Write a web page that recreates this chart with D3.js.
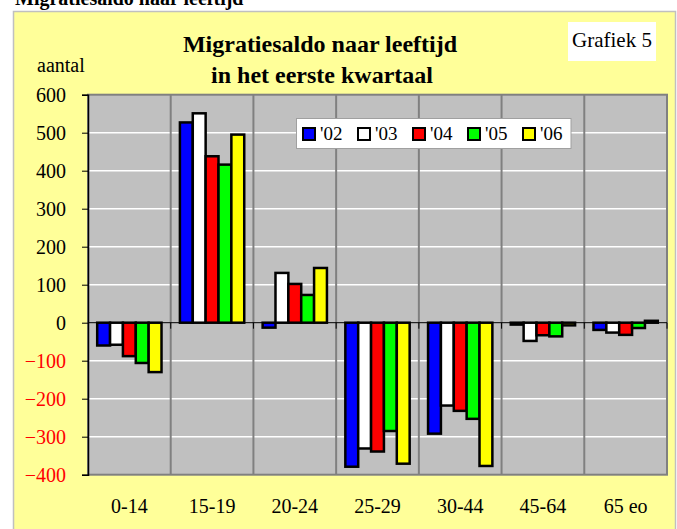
<!DOCTYPE html>
<html>
<head>
<meta charset="utf-8">
<script src="https://cdn.jsdelivr.net/npm/d3@7"></script>
<style>
  body { margin: 0; background: #fff; }
</style>
</head>
<body>
<svg id="chart" width="677" height="529"></svg>
<script>
// age groups on the x axis
const ageGroups = ["0-14", "15-19", "20-24", "25-29", "30-44", "45-64", "65 eo"];
// years (legend)
const years = ["'02", "'03", "'04", "'05", "'06"];
const yearColors = ["#0000ff", "#ffffff", "#ff0000", "#00ff00", "#ffff00"];
// migration balance per year, one value per age group
const y02 = [-60, 527, -13, -379, -292, -5, -19];
const y03 = [-58, 551, 131, -331, -218, -48, -26];
const y04 = [-88, 438, 102, -339, -232, -33, -32];
const y05 = [-106, 416, 73, -285, -253, -36, -14];
const y06 = [-130, 495, 144, -371, -377, -7, 5];
const yTicks = [600, 500, 400, 300, 200, 100, 0, -100, -200, -300, -400];

const FONT = "'Liberation Serif', 'DejaVu Serif', 'Times New Roman', Times, serif";

const series = [y02, y03, y04, y05, y06];
const rows = ageGroups.map((g, i) => ({
  group: g,
  vals: years.map((yr, j) => ({ year: yr, value: series[j][i], color: yearColors[j] }))
}));

const svg = d3.select("#chart").style("font-family", FONT);

// clipped heading above the chart frame
svg.append("text")
  .attr("x", 15).attr("y", 5)
  .attr("font-size", 20).attr("font-weight", "bold")
  .text("Migratiesaldo naar leeftijd");

// yellow chart area
svg.append("rect")
  .attr("x", 13.5).attr("y", 11.5)
  .attr("width", 662).attr("height", 530)
  .attr("fill", "#ffff99")
  .attr("stroke", "#c0c0c0").attr("stroke-width", 1.5);

const plot = { left: 88, right: 667, top: 94.7, bottom: 474.7 };

const x0 = d3.scaleBand().domain(ageGroups).range([plot.left, plot.right]);
const x1 = d3.scaleBand().domain(years).range([0, x0.bandwidth()]).paddingOuter(0.715);
const y = d3.scaleLinear().domain([-400, 600]).range([plot.bottom, plot.top]);

// plot background
svg.append("rect")
  .attr("x", plot.left).attr("y", plot.top)
  .attr("width", plot.right - plot.left).attr("height", plot.bottom - plot.top)
  .attr("fill", "#c0c0c0");

// horizontal gridlines
svg.append("g").selectAll("line")
  .data(yTicks.filter(d => d !== 0 && d !== 600 && d !== -400))
  .join("line")
  .attr("x1", plot.left).attr("x2", plot.right)
  .attr("y1", d => y(d)).attr("y2", d => y(d))
  .attr("stroke", "#ffffff").attr("stroke-width", 1.5);

// vertical gridlines between age groups
svg.append("g").selectAll("line")
  .data(ageGroups.slice(1))
  .join("line")
  .attr("x1", d => x0(d)).attr("x2", d => x0(d))
  .attr("y1", plot.top).attr("y2", plot.bottom)
  .attr("stroke", "#808080").attr("stroke-width", 2);

// plot border
svg.append("rect")
  .attr("x", plot.left).attr("y", plot.top)
  .attr("width", plot.right - plot.left).attr("height", plot.bottom - plot.top)
  .attr("fill", "none")
  .attr("stroke", "#808080").attr("stroke-width", 2);

// zero line + category ticks
svg.append("line")
  .attr("x1", plot.left).attr("x2", plot.right)
  .attr("y1", y(0)).attr("y2", y(0))
  .attr("stroke", "#000").attr("stroke-width", 1);
svg.append("g").selectAll("line")
  .data(ageGroups.slice(1).map(d => x0(d)).concat([plot.right]))
  .join("line")
  .attr("x1", d => d).attr("x2", d => d)
  .attr("y1", y(0)).attr("y2", y(0) + 6)
  .attr("stroke", "#000").attr("stroke-width", 1);

// bars
const groups = svg.append("g").selectAll("g")
  .data(rows)
  .join("g")
  .attr("transform", d => `translate(${x0(d.group)},0)`);

groups.selectAll("rect")
  .data(d => d.vals)
  .join("rect")
  .attr("x", d => x1(d.year))
  .attr("width", x1.bandwidth())
  .attr("y", d => y(Math.max(0, d.value)))
  .attr("height", d => Math.abs(y(d.value) - y(0)))
  .attr("fill", d => d.color)
  .attr("stroke", "#000").attr("stroke-width", 2.5);

// y axis
const yAxis = svg.append("g")
  .attr("transform", `translate(${plot.left},0)`)
  .call(d3.axisLeft(y).tickValues(yTicks).tickSize(6).tickPadding(16).tickFormat(d3.format("d")));
yAxis.attr("font-family", null).attr("font-size", null);
yAxis.select(".domain").attr("stroke", "#000").attr("stroke-width", 1.5);
yAxis.selectAll(".tick line").attr("stroke", "#000");
yAxis.selectAll(".tick text")
  .style("font-family", FONT)
  .style("font-size", "20px")
  .attr("fill", d => d < 0 ? "#ff0000" : "#000");

// x labels
svg.append("g").selectAll("text")
  .data(ageGroups)
  .join("text")
  .attr("x", d => x0(d) + x0.bandwidth() / 2)
  .attr("y", 513)
  .attr("text-anchor", "middle")
  .attr("font-size", 20)
  .text(d => d);

// axis title
svg.append("text")
  .attr("x", 37).attr("y", 71.5)
  .attr("font-size", 20)
  .text("aantal");

// title
const title = svg.append("text")
  .attr("text-anchor", "middle")
  .attr("font-size", 24).attr("font-weight", "bold");
title.append("tspan").attr("x", 320).attr("y", 51.5).text("Migratiesaldo naar leeftijd");
title.append("tspan").attr("x", 322).attr("y", 82.5).text("in het eerste kwartaal");

// "Grafiek 5" label box
svg.append("rect")
  .attr("x", 568).attr("y", 22).attr("width", 88).attr("height", 39)
  .attr("fill", "#fff");
svg.append("text")
  .attr("x", 612).attr("y", 47)
  .attr("text-anchor", "middle")
  .attr("font-size", 21)
  .text("Grafiek 5");

// legend
const legend = svg.append("g");
legend.append("rect")
  .attr("x", 296.5).attr("y", 118.5).attr("width", 274.5).attr("height", 30)
  .attr("fill", "#fff").attr("stroke", "#a0a0a0").attr("stroke-width", 1);
const items = legend.selectAll("g")
  .data(years)
  .join("g")
  .attr("transform", (d, i) => `translate(${303 + i * 55},128)`);
items.append("rect")
  .attr("width", 12).attr("height", 12)
  .attr("fill", (d, i) => yearColors[i])
  .attr("stroke", "#000").attr("stroke-width", 2);
items.append("text")
  .attr("x", 17).attr("y", 12)
  .attr("font-size", 19)
  .text(d => d);
</script>
</body>
</html>
